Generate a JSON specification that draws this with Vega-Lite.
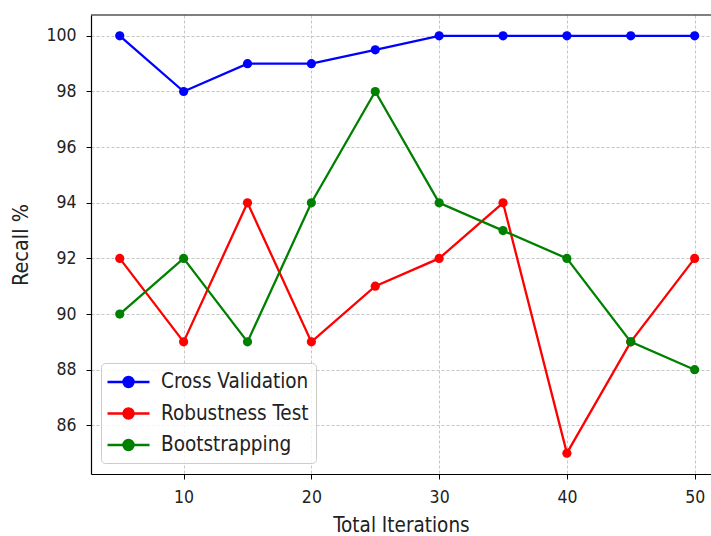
{
  "$schema": "https://vega.github.io/schema/vega-lite/v6.json",
  "width": 620,
  "height": 459,
  "autosize": {"type": "none"},
  "padding": {"left": 91, "top": 15, "right": 0, "bottom": 62},
  "background": "white",
  "config": {
    "view": {"stroke": null},
    "font": "DejaVu Sans Condensed, DejaVu Sans",
    "axis": {
      "labelFont": "DejaVu Sans Condensed, DejaVu Sans",
      "titleFont": "DejaVu Sans Condensed, DejaVu Sans",
      "labelFontSize": 17.5,
      "titleFontSize": 20.5,
      "titleFontWeight": "normal",
      "labelColor": "#222222",
      "titleColor": "#222222",
      "domainColor": "black",
      "domainWidth": 1.2,
      "tickColor": "black",
      "tickSize": 5,
      "tickWidth": 1,
      "grid": true,
      "gridColor": "#b8b8b8",
      "gridDash": [3, 2],
      "gridWidth": 0.8
    }
  },
  "data": {
    "values": [
      {"iter": 5, "series": "Cross Validation", "recall": 100},
      {"iter": 10, "series": "Cross Validation", "recall": 98},
      {"iter": 15, "series": "Cross Validation", "recall": 99},
      {"iter": 20, "series": "Cross Validation", "recall": 99},
      {"iter": 25, "series": "Cross Validation", "recall": 99.5},
      {"iter": 30, "series": "Cross Validation", "recall": 100},
      {"iter": 35, "series": "Cross Validation", "recall": 100},
      {"iter": 40, "series": "Cross Validation", "recall": 100},
      {"iter": 45, "series": "Cross Validation", "recall": 100},
      {"iter": 50, "series": "Cross Validation", "recall": 100},
      {"iter": 5, "series": "Robustness Test", "recall": 92},
      {"iter": 10, "series": "Robustness Test", "recall": 89},
      {"iter": 15, "series": "Robustness Test", "recall": 94},
      {"iter": 20, "series": "Robustness Test", "recall": 89},
      {"iter": 25, "series": "Robustness Test", "recall": 91},
      {"iter": 30, "series": "Robustness Test", "recall": 92},
      {"iter": 35, "series": "Robustness Test", "recall": 94},
      {"iter": 40, "series": "Robustness Test", "recall": 85},
      {"iter": 45, "series": "Robustness Test", "recall": 89},
      {"iter": 50, "series": "Robustness Test", "recall": 92},
      {"iter": 5, "series": "Bootstrapping", "recall": 90},
      {"iter": 10, "series": "Bootstrapping", "recall": 92},
      {"iter": 15, "series": "Bootstrapping", "recall": 89},
      {"iter": 20, "series": "Bootstrapping", "recall": 94},
      {"iter": 25, "series": "Bootstrapping", "recall": 98},
      {"iter": 30, "series": "Bootstrapping", "recall": 94},
      {"iter": 35, "series": "Bootstrapping", "recall": 93},
      {"iter": 40, "series": "Bootstrapping", "recall": 92},
      {"iter": 45, "series": "Bootstrapping", "recall": 89},
      {"iter": 50, "series": "Bootstrapping", "recall": 88}
    ]
  },
  "layer": [
    {
      "data": {"values": [{}]},
      "mark": {"type": "rule", "color": "black", "strokeWidth": 1.2},
      "encoding": {"y": {"datum": 100.75, "type": "quantitative"}}
    },
    {
      "mark": {"type": "line", "strokeWidth": 2.3, "point": {"size": 85, "filled": true, "opacity": 1}},
      "encoding": {
        "x": {
          "field": "iter",
          "type": "quantitative",
          "title": "Total Iterations",
          "scale": {"domain": [2.75, 51.28], "nice": false, "zero": false},
          "axis": {"values": [10, 20, 30, 40, 50], "labelPadding": 9, "titlePadding": 10}
        },
        "y": {
          "field": "recall",
          "type": "quantitative",
          "title": "Recall %",
          "scale": {"domain": [84.25, 100.75], "nice": false, "zero": false},
          "axis": {"values": [86, 88, 90, 92, 94, 96, 98, 100], "labelPadding": 10, "titlePadding": 13, "titleFontSize": 21.5}
        },
        "color": {
          "field": "series",
          "type": "nominal",
          "sort": ["Cross Validation", "Robustness Test", "Bootstrapping"],
          "scale": {
            "domain": ["Cross Validation", "Robustness Test", "Bootstrapping"],
            "range": ["#0000ff", "#ff0000", "#008000"]
          },
          "legend": {
            "title": null,
            "orient": "none",
            "legendX": 10,
            "legendY": 348,
            "symbolType": "M-1.19,0L2.81,0M1.29,0A0.48,0.48,0,1,1,0.33,0A0.48,0.48,0,1,1,1.29,0Z",
            "symbolSize": 441,
            "symbolStrokeWidth": 2.3,
            "symbolOpacity": 1,
            "labelFont": "DejaVu Sans Condensed, DejaVu Sans",
            "labelFontSize": 20.5,
            "labelColor": "#222222",
            "labelOffset": 29,
            "padding": 7,
            "rowPadding": 8.5,
            "fillColor": "rgba(255,255,255,0.8)",
            "strokeColor": "#cccccc",
            "cornerRadius": 4,
            "encode": {
              "symbols": {"update": {"fill": {"scale": "color", "field": "value"}}}
            }
          }
        }
      }
    }
  ]
}
